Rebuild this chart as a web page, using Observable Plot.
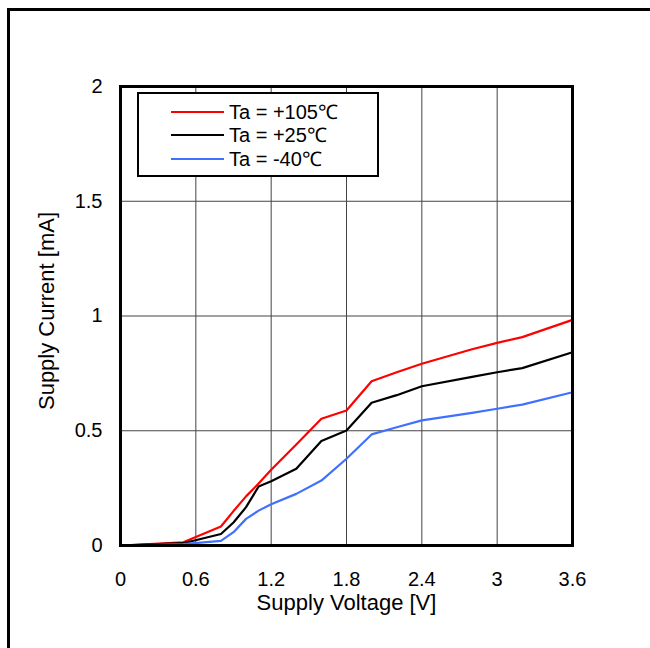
<!DOCTYPE html>
<html>
<head>
<meta charset="utf-8">
<script src="https://cdn.jsdelivr.net/npm/d3@7"></script>
<script src="https://cdn.jsdelivr.net/npm/@observablehq/plot@0.6"></script>
<style>
  html, body { margin: 0; padding: 0; background: #fff; }
  #wrap { position: relative; width: 650px; height: 648px; overflow: hidden; font-family: "Liberation Sans", Arial, sans-serif; }
  #border { position: absolute; left: 7px; top: 8px; width: 700px; height: 700px; border: 3px solid #000; box-sizing: border-box; pointer-events: none; }
  #legend { position: absolute; left: 137px; top: 92px; width: 242px; height: 85px; border: 2px solid #000; box-sizing: border-box; background: #fff; }
  .sw { position: absolute; left: 32px; width: 53px; height: 2px; }
  .lab { position: absolute; left: 90px; font-size: 20px; white-space: nowrap; line-height: 24px; color: #000; }
</style>
</head>
<body>
<div id="wrap">
  <div id="chart"></div>
  <div id="border"></div>
  <div id="legend"></div>
</div>
<script>
const seriesNames = ["Ta = +105℃", "Ta = +25℃", "Ta = -40℃"];
const seriesColors = ["#ff0000", "#000000", "#4070ff"];
const voltage = [0, 0.5, 0.8, 0.9, 1.0, 1.1, 1.2, 1.4, 1.6, 1.8, 2.0, 2.2, 2.4, 2.8, 3.0, 3.2, 3.6];
const current105 = [0, 0.014, 0.083, 0.15, 0.214, 0.27, 0.33, 0.44, 0.552, 0.588, 0.716, 0.755, 0.792, 0.855, 0.883, 0.908, 0.983];
const current25  = [0, 0.01, 0.05, 0.10, 0.167, 0.257, 0.28, 0.334, 0.455, 0.501, 0.622, 0.655, 0.694, 0.735, 0.755, 0.773, 0.842];
const currentM40 = [0, 0.006, 0.02, 0.058, 0.116, 0.152, 0.18, 0.225, 0.283, 0.378, 0.484, 0.515, 0.545, 0.578, 0.596, 0.614, 0.668];
const xTicks = [0, 0.6, 1.2, 1.8, 2.4, 3, 3.6];
const yTicks = [0, 0.5, 1, 1.5, 2];

const allSeries = [current105, current25, currentM40];
const data = [];
allSeries.forEach((arr, s) => arr.forEach((c, i) => data.push({v: voltage[i], i: c, s: seriesNames[s]})));

const chart = Plot.plot({
  width: 650, height: 648,
  marginLeft: 120, marginRight: 78, marginTop: 86, marginBottom: 103,
  style: {fontFamily: "'Liberation Sans', Arial, sans-serif", fontSize: "20px", color: "#000", background: "transparent"},
  x: {domain: [0, 3.6]},
  y: {domain: [0, 2]},
  color: {domain: seriesNames, range: seriesColors},
  marks: [
    Plot.gridX(xTicks, {stroke: "#444", strokeOpacity: 1, strokeWidth: 1}),
    Plot.gridY(yTicks, {stroke: "#444", strokeOpacity: 1, strokeWidth: 1}),
    Plot.line(data, {x: "v", y: "i", stroke: "s", z: "s", strokeWidth: 2.2}),
    Plot.frame({stroke: "#000", strokeWidth: 3}),
    Plot.axisX(xTicks, {tickSize: 0, tickPadding: 26, label: null, tickFormat: d => String(d), fontSize: 20}),
    Plot.axisY(yTicks, {tickSize: 0, tickPadding: 18, label: null, tickFormat: d => String(d), fontSize: 20}),
    Plot.text(["Supply Voltage [V]"], {frameAnchor: "bottom", dy: 57, fontSize: 22, lineAnchor: "middle"}),
    Plot.text(["Supply Current [mA]"], {frameAnchor: "left", dx: -74, dy: -5, rotate: -90, textAnchor: "middle", fontSize: 22, lineAnchor: "middle"})
  ]
});
document.getElementById("chart").appendChild(chart);

const legend = document.getElementById("legend");
const rowCenters = [18, 41, 65];
seriesNames.forEach((n, k) => {
  const sw = document.createElement("div");
  sw.className = "sw";
  sw.style.top = (rowCenters[k] - 1) + "px";
  sw.style.background = seriesColors[k];
  legend.appendChild(sw);
  const lab = document.createElement("div");
  lab.className = "lab";
  lab.style.top = (rowCenters[k] - 12) + "px";
  lab.textContent = n;
  legend.appendChild(lab);
});
</script>
</body>
</html>
